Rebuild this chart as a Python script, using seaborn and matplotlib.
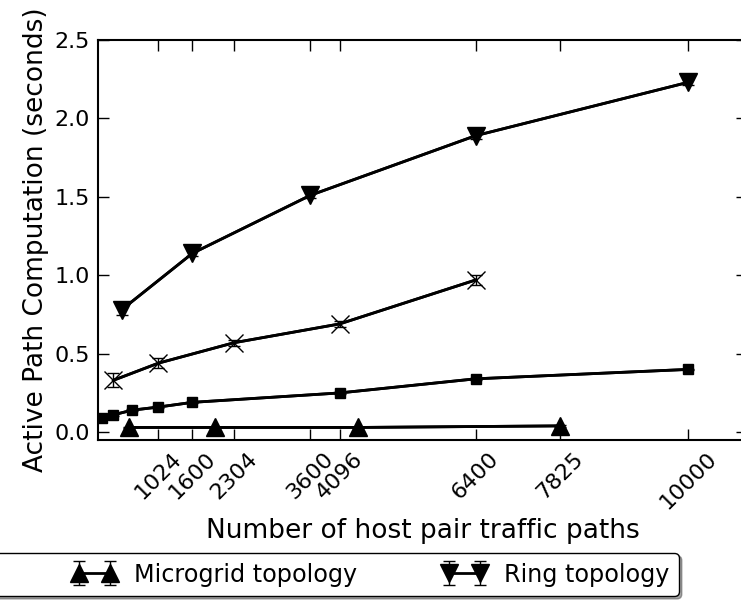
import numpy as np
import pandas as pd
import seaborn as sns
import matplotlib.pyplot as plt
from matplotlib.lines import Line2D

# values
ring_x = [400, 1600, 3600, 6400, 10000]
ring_y = [0.78, 1.14, 1.51, 1.89, 2.23]
ring_err = [0.03, 0.02, 0.02, 0.02, 0.02]

cross_x = [256, 1024, 2304, 4096, 6400]
cross_y = [0.33, 0.44, 0.57, 0.69, 0.97]
cross_err = [0.045, 0.03, 0.02, 0.02, 0.03]

square_x = [64, 256, 576, 1024, 1600, 4096, 6400, 10000]
square_y = [0.09, 0.11, 0.14, 0.16, 0.19, 0.25, 0.34, 0.40]
square_err = [0.005] * 8

micro_x = [530, 1990, 4400, 7825]
micro_y = [0.03, 0.03, 0.03, 0.04]
micro_err = [0.005] * 4

xticks = [1024, 1600, 2304, 3600, 4096, 6400, 7825, 10000]
yticks = [0.0, 0.5, 1.0, 1.5, 2.0, 2.5]

sns.set_style('ticks')
plt.rcParams['font.family'] = ['DejaVu Sans']
plt.rcParams['text.color'] = 'k'
plt.rcParams['axes.labelcolor'] = 'k'
plt.rcParams['xtick.color'] = 'k'
plt.rcParams['ytick.color'] = 'k'

fig = plt.figure(figsize=(7.41, 6.0), dpi=100)
ax = fig.add_axes([98 / 741, 160 / 600, (747 - 98) / 741, 400 / 600])

handles = {}
series = [
    ('micro', micro_x, micro_y, micro_err, '^', 13.5),
    ('ring', ring_x, ring_y, ring_err, 'v', 12.5),
    ('square', square_x, square_y, square_err, 's', 6.5),
    ('cross', cross_x, cross_y, cross_err, 'x', 13),
]
for name, xs, ys, es, mk, ms in series:
    df = pd.DataFrame({'x': xs, 'y': ys})
    sns.lineplot(data=df, x='x', y='y', ax=ax, color='k', linewidth=2)
    eb = ax.errorbar(xs, ys, yerr=es, fmt=mk + '-', color='k', linewidth=2,
                     markersize=ms, markeredgewidth=1, markeredgecolor='k',
                     markerfacecolor='k', ecolor='k', elinewidth=1,
                     capsize=4, capthick=1)
    handles[name] = eb

ax.set_xlim(0, 11000)
ax.set_ylim(-0.05, 2.5)
ax.set_xticks(xticks)
ax.set_xticklabels([str(t) for t in xticks], rotation=45)
ax.set_yticks(yticks)
ax.set_yticklabels(['%.1f' % t for t in yticks])
ax.tick_params(direction='in', length=8, width=1, top=True, right=True,
               labelsize=16, pad=6, colors='k')
for sp in ax.spines.values():
    sp.set_linewidth(1.5)
    sp.set_color('k')

ax.set_xlabel('Number of host pair traffic paths', fontsize=19, labelpad=4)
ax.set_ylabel('Active Path Computation (seconds)', fontsize=19, labelpad=4)

# the legend runs off the left edge of the picture
spacer = Line2D([], [], linestyle='none')
fig.legend([spacer, handles['micro'], handles['ring']],
           ['', 'Microgrid topology', 'Ring topology'],
           ncol=3, loc='upper right',
           bbox_to_anchor=(679 / 741, 1 - 553 / 600),
           fontsize=17.2, numpoints=2, handlelength=1.9, handletextpad=0.7,
           columnspacing=3.55, frameon=True, fancybox=True, shadow=True,
           edgecolor='k', framealpha=1, borderaxespad=0)

fig.savefig('out.png', dpi=100)
